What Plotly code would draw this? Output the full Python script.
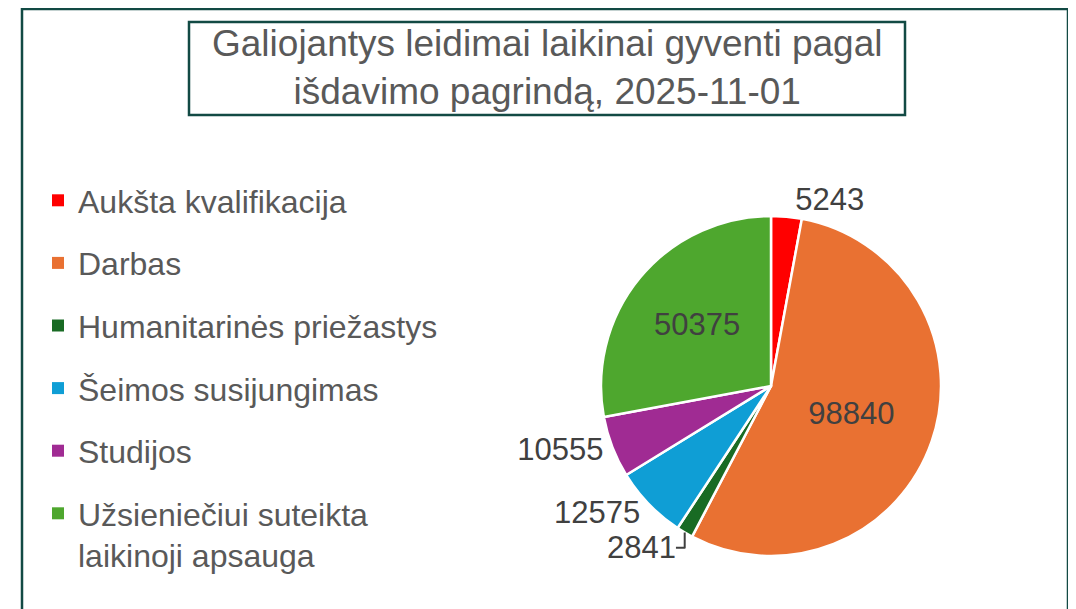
import plotly.graph_objects as go

categories = ["Aukšta kvalifikacija", "Darbas", "Humanitarinės priežastys",
              "Šeimos susijungimas", "Studijos",
              "Užsieniečiui suteikta<br>laikinoji apsauga"]
values = [5243, 98840, 2841, 12575, 10555, 50375]
colors = ["#FF0000", "#E97132", "#196B24", "#0F9ED5", "#A02B93", "#4EA72E"]
text_positions = ["outside", "inside", "outside", "outside", "outside", "inside"]
title_text = "Galiojantys leidimai laikinai gyventi pagal<br>išdavimo pagrindą, 2025-11-01"

# page body has an 8px margin; figure fills the rest of the 1076x609 window
OFF = 8
W, H = 1076 - OFF, 609 - OFF
FONT = "Liberation Sans, Arial, sans-serif"
BORDER = "#124A44"


def px(x):
    return (x - OFF) / W


def py(y):
    return 1 - (y - OFF) / H


fig = go.Figure()

cx, cy, r = 771, 386, 170
fig.add_trace(go.Pie(
    labels=categories, values=values, sort=False, direction="clockwise", rotation=0,
    marker=dict(colors=colors, line=dict(color="white", width=2.5)),
    texttemplate="%{value:.0f}", textposition=text_positions,
    insidetextorientation="horizontal",
    insidetextfont=dict(family=FONT, size=31, color="#404040"),
    outsidetextfont=dict(family=FONT, size=31, color="#404040"),
    showlegend=False, hoverinfo="label+value",
    domain=dict(x=[px(cx - r), px(cx + r)], y=[py(cy + r), py(cy - r)]),
))

# legend entries (one group each so spacing can be controlled)
for name, col in zip(categories, colors):
    fig.add_trace(go.Scatter(
        x=[None], y=[None], mode="markers", name=name, legendgroup=name,
        marker=dict(symbol="square", size=11, color=col),
        hoverinfo="skip",
    ))

fig.update_layout(
    width=W, height=H,
    margin=dict(l=0, r=0, t=0, b=0),
    paper_bgcolor="white", plot_bgcolor="white",
    xaxis=dict(visible=False), yaxis=dict(visible=False),
    legend=dict(
        x=px(38), y=py(173), xanchor="left", yanchor="top",
        font=dict(family=FONT, size=32, color="#595959"),
        tracegroupgap=18, traceorder="grouped", valign="top",
        itemsizing="constant", bgcolor="rgba(0,0,0,0)",
    ),
    annotations=[dict(
        text=title_text, x=px(547), y=py(67), xref="paper", yref="paper",
        xanchor="center", yanchor="middle", showarrow=False,
        font=dict(family=FONT, size=37, color="#595959"),
    )],
    shapes=[
        dict(type="rect", xref="paper", yref="paper",
             x0=px(22), x1=px(1068), y0=-0.05, y1=py(9),
             line=dict(color=BORDER, width=2.5), layer="below"),
        dict(type="rect", xref="paper", yref="paper",
             x0=px(189), x1=px(905), y0=py(115), y1=py(22),
             line=dict(color=BORDER, width=2.5), layer="below"),
    ],
)

fig.write_html("out.html")
